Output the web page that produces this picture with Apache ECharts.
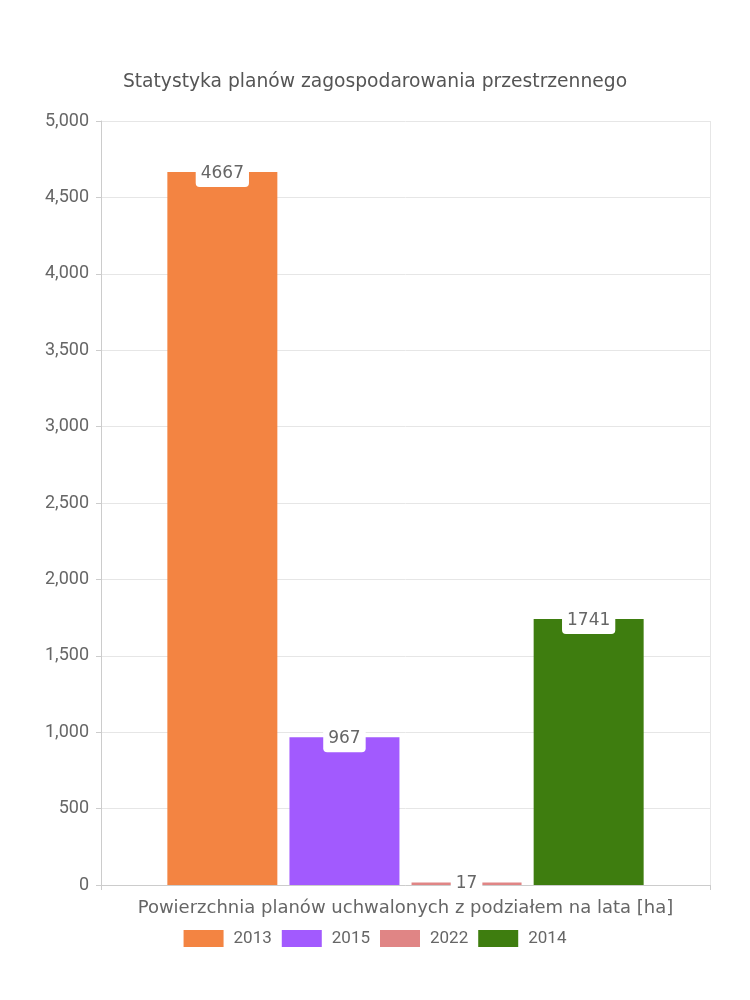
<!DOCTYPE html>
<html><head><meta charset="utf-8">
<script src="https://cdn.jsdelivr.net/npm/echarts@6/dist/echarts.min.js"></script>
<style>html,body{margin:0;padding:0;background:#fff}#c{width:750px;height:1000px}</style>
</head><body><div id="c"></div>
<script>
const titleText = 'Statystyka planów zagospodarowania przestrzennego';
const categories = ['Powierzchnia planów uchwalonych z podziałem na lata [ha]'];
const seriesNames = ['2013', '2015', '2022', '2014'];
const seriesValues = [[4667], [967], [17], [1741]];
const seriesColors = ['#F38442', '#A25AFE', '#E08585', '#3E7D0F'];

const chart = echarts.init(document.getElementById('c'));
chart.setOption({
  animation: false,
  title: { text: titleText, left: 'center', top: 68,
    textStyle: { fontFamily: 'DejaVu Sans', fontSize: 18.7, fontWeight: 'normal', color: '#555' } },
  legend: { bottom: 48, left: 'center', itemWidth: 40, itemHeight: 17, itemGap: 10, icon: 'rect',
    textStyle: { fontFamily: 'Roboto', fontSize: 17, color: '#666', padding: [0, 0, 0, 5] } },
  grid: { left: 101, right: 40, top: 121, bottom: 115 },
  xAxis: { type: 'category', data: categories,
    axisLine: { lineStyle: { color: '#ccc' } },
    axisTick: { show: true, lineStyle: { color: '#ccc' } },
    splitLine: { show: true, lineStyle: { color: '#e6e6e6' } },
    axisLabel: { fontFamily: 'DejaVu Sans', fontSize: 18, color: '#666', margin: 14 } },
  yAxis: { type: 'value', min: 0, max: 5000, interval: 500,
    axisLine: { show: true, lineStyle: { color: '#ccc' } },
    axisTick: { show: true, lineStyle: { color: '#ccc' } },
    splitLine: { lineStyle: { color: '#e6e6e6' } },
    axisLabel: { fontFamily: 'Roboto', fontSize: 18, color: '#666', margin: 12,
      formatter: v => v.toLocaleString('en-US') } },
  series: seriesNames.map((n, i) => ({
    name: n, type: 'bar', data: seriesValues[i], barWidth: 110, barGap: '11%',
    itemStyle: { color: seriesColors[i] },
    label: { show: true, position: 'top', distance: -15, fontFamily: 'DejaVu Sans', fontSize: 17, color: '#666',
      backgroundColor: '#fff', borderRadius: 4, padding: [2, 5, 5, 5] }
  }))
});
</script></body></html>
